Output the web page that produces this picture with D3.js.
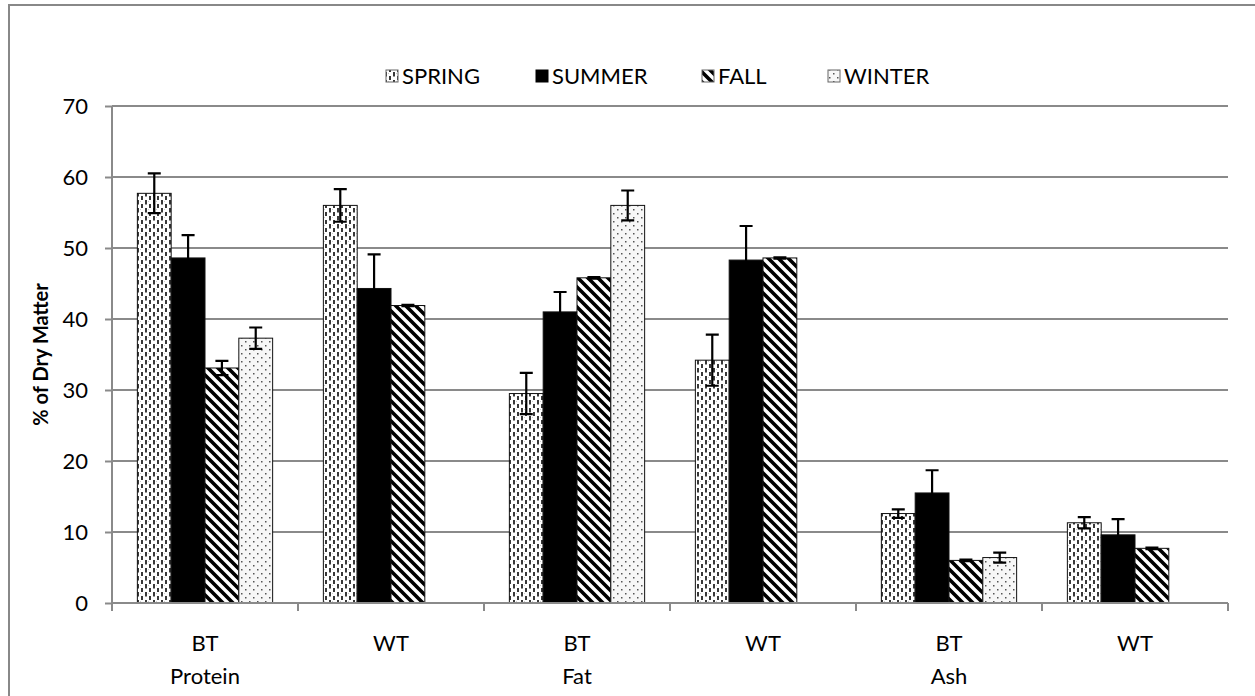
<!DOCTYPE html>
<html><head><meta charset="utf-8">
<script src="https://cdn.jsdelivr.net/npm/d3@7"></script>
<style>body{margin:0;background:#fff}svg{display:block}text{font-family:Lato,"Open Sans",sans-serif;fill:#000}</style>
</head><body>
<script>
const categories = ["BT","WT","BT","WT","BT","WT"];
const groupLabels = ["Protein","","Fat","","Ash",""];
const seriesNames = ["SPRING","SUMMER","FALL","WINTER"];
const spring = [57.7, 56.0, 29.5, 34.2, 12.6, 11.3];
const summer = [48.6, 44.3, 41.0, 48.3, 15.5, 9.6];
const fall   = [33.1, 41.9, 45.8, 48.6, 6.0, 7.7];
const winter = [37.3, null, 56.0, null, 6.4, null];
const springErr = [2.8, 2.3, 2.9, 3.6, 0.6, 0.8];
const summerErr = [3.2, 4.8, 2.8, 4.8, 3.2, 2.2];
const fallErr   = [1.0, 0.1, 0.1, 0.1, 0.1, 0.1];
const winterErr = [1.5, null, 2.1, null, 0.7, null];
const yTicks = [0,10,20,30,40,50,60,70];

const values = [spring, summer, fall, winter];
const errs = [springErr, summerErr, fallErr, winterErr];

const W = 1255, H = 696;
const pLeft = 112, pRight = 1228, pTop = 106, pBottom = 603;
const FS = 22;
const svg = d3.select("body").append("svg").attr("width", W).attr("height", H);

// patterns
const defs = svg.append("defs");
const pSpring = defs.append("pattern").attr("id","p0").attr("patternUnits","userSpaceOnUse").attr("width",8).attr("height",8);
pSpring.append("rect").attr("width",8).attr("height",8).attr("fill","#fff");
pSpring.append("line").attr("x1",2).attr("x2",2).attr("y1",0).attr("y2",4.5).attr("stroke","#222").attr("stroke-width",1.8);
pSpring.append("line").attr("x1",6).attr("x2",6).attr("y1",4).attr("y2",8.5).attr("stroke","#222").attr("stroke-width",1.8);
pSpring.append("rect").attr("x",4).attr("y",1).attr("width",1).attr("height",1).attr("fill","#ccc");
const pFall = defs.append("pattern").attr("id","p2").attr("patternUnits","userSpaceOnUse").attr("width",10).attr("height",10);
pFall.append("rect").attr("width",10).attr("height",10).attr("fill","#fff");
pFall.append("path").attr("d","M-3,-3L13,13M-3,7L3,13M7,-3L13,3").attr("stroke","#000").attr("stroke-width",3.6);
const pWinter = defs.append("pattern").attr("id","p3").attr("patternUnits","userSpaceOnUse").attr("width",8).attr("height",8);
pWinter.append("rect").attr("width",8).attr("height",8).attr("fill","#f7f7f7");
pWinter.append("rect").attr("x",1).attr("y",1).attr("width",1.5).attr("height",1.5).attr("fill","#555");
pWinter.append("rect").attr("x",5).attr("y",5).attr("width",1.5).attr("height",1.5).attr("fill","#555");
const fills = ["url(#p0)", "#000", "url(#p2)", "url(#p3)"];

// border
svg.append("rect").attr("x",9).attr("y",5).attr("width",1250).attr("height",700)
  .attr("fill","none").attr("stroke","#888").attr("stroke-width",2);

const x0 = d3.scaleBand().domain(d3.range(categories.length)).range([pLeft, pRight]).padding(0);
// Excel gap width 150%: bar = band/(4+1.5)
const barW = x0.bandwidth()/(seriesNames.length+1.5);
const gap = barW*0.75;
const y = d3.scaleLinear().domain([0,70]).range([pBottom, pTop]);

// gridlines
svg.append("g").selectAll("line").data(yTicks.filter(d=>d>0)).join("line")
  .attr("x1",pLeft).attr("x2",pRight).attr("y1",d=>y(d)).attr("y2",d=>y(d))
  .attr("stroke","#8a8a8a").attr("stroke-width",2);

// y axis
const yAxis = svg.append("g").attr("transform",`translate(${pLeft},0)`)
  .call(d3.axisLeft(y).tickValues(yTicks).tickSize(7).tickPadding(17));
yAxis.select(".domain").attr("stroke","#8a8a8a").attr("stroke-width",2).attr("d",`M0,${pTop}V${pBottom}`);
yAxis.selectAll(".tick line").attr("stroke","#8a8a8a").attr("stroke-width",2);
yAxis.selectAll(".tick text").attr("font-size",FS).attr("font-family","Lato").attr("fill","#000");

// bars
const bars = [];
categories.forEach((c,i)=>{
  values.forEach((arr,s)=>{
    if(arr[i]!=null) bars.push({i,s,v:arr[i],e:errs[s][i]});
  });
});
const bx = d => x0(d.i) + gap + d.s*barW;
svg.append("g").selectAll("rect").data(bars).join("rect")
  .attr("x",bx).attr("y",d=>y(d.v)).attr("width",barW).attr("height",d=>y(0)-y(d.v))
  .attr("fill",d=>fills[d.s]).attr("stroke","#111").attr("stroke-width",1);

// error bars
const eg = svg.append("g").attr("stroke","#000").attr("stroke-width",2.2).attr("fill","none");
bars.forEach(d=>{
  const cx = bx(d) + barW/2;
  const y1 = y(d.v + d.e), y2 = y(d.v - d.e);
  eg.append("path").attr("d",`M${cx},${y1}V${y2}M${cx-6.5},${y1}H${cx+6.5}M${cx-6.5},${y2}H${cx+6.5}`);
});

// x axis
svg.append("line").attr("x1",pLeft).attr("x2",pRight).attr("y1",pBottom).attr("y2",pBottom)
  .attr("stroke","#8a8a8a").attr("stroke-width",2);
const bounds = d3.range(categories.length+1).map(i=> i<categories.length ? x0(i) : pRight);
svg.append("g").selectAll("line").data(bounds).join("line")
  .attr("x1",d=>d).attr("x2",d=>d).attr("y1",pBottom).attr("y2",pBottom+8)
  .attr("stroke","#8a8a8a").attr("stroke-width",2);
svg.append("g").selectAll("text").data(categories).join("text")
  .attr("x",(d,i)=>x0(i)+x0.bandwidth()/2).attr("y",651).attr("text-anchor","middle")
  .attr("font-size",FS).text(d=>d);
svg.append("g").selectAll("text").data(groupLabels).join("text")
  .attr("x",(d,i)=>x0(i)+x0.bandwidth()/2).attr("y",684).attr("text-anchor","middle")
  .attr("font-size",FS).text(d=>d);

// y label
svg.append("text").attr("transform",`translate(48,${(pTop+pBottom)/2}) rotate(-90)`)
  .attr("text-anchor","middle").attr("font-size",20).attr("font-weight","bold").text("% of Dry Matter");

// legend
const legX = [386, 536, 702, 828];
const lg = svg.append("g");
seriesNames.forEach((n,s)=>{
  lg.append("rect").attr("x",legX[s]).attr("y",70).attr("width",12).attr("height",12)
    .attr("fill",fills[s]).attr("stroke",s===1?"#000":"#666").attr("stroke-width",1);
  lg.append("text").attr("x",legX[s]+16).attr("y",84).attr("font-size",FS).text(n);
});
</script>
</body></html>
